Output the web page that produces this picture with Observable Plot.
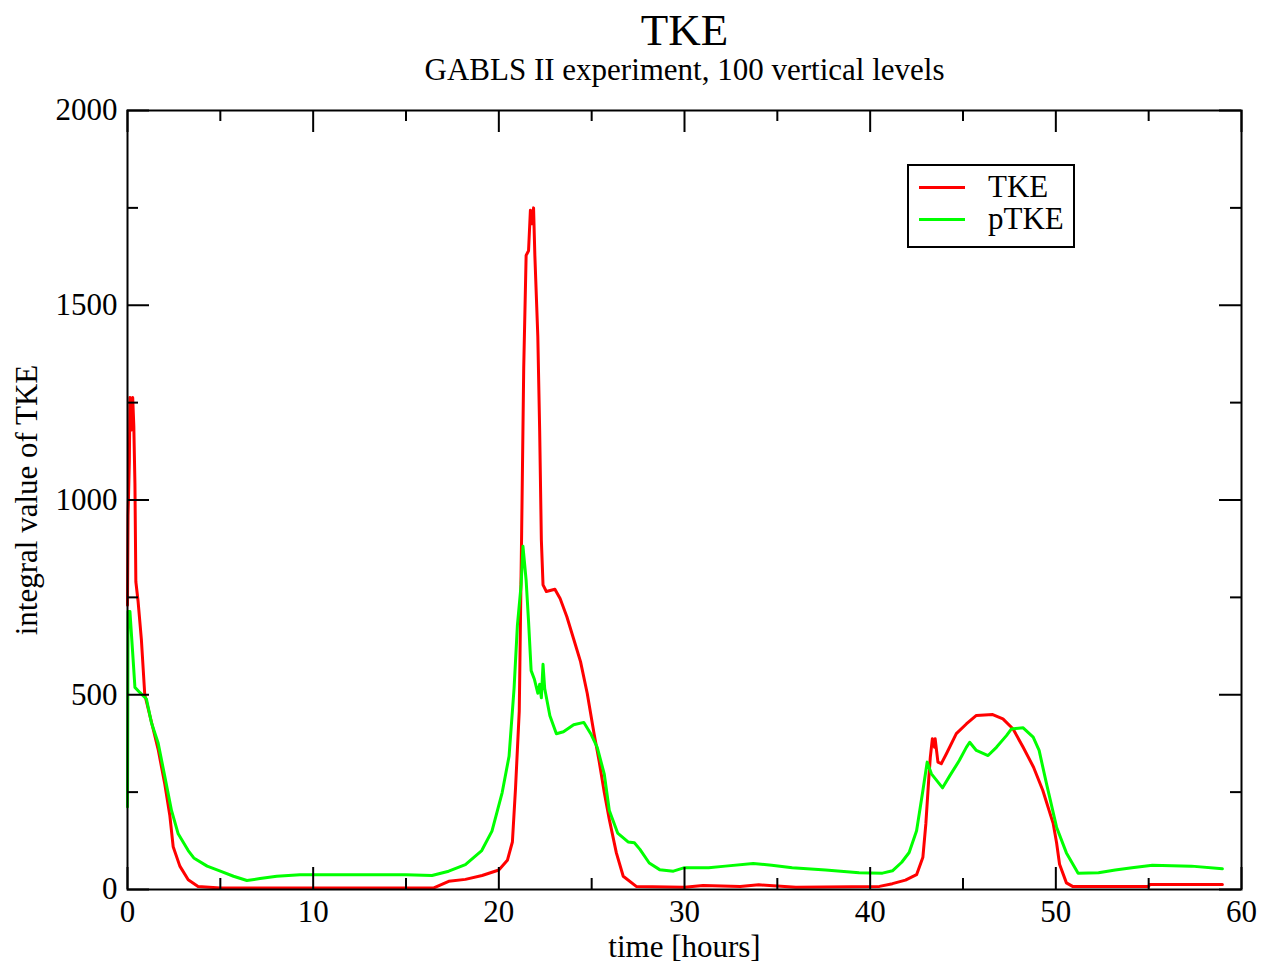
<!DOCTYPE html>
<html>
<head>
<meta charset="utf-8">
<script src="https://cdn.jsdelivr.net/npm/d3@7"></script>
<script src="https://cdn.jsdelivr.net/npm/@observablehq/plot@0.6"></script>
<style>
  body { margin: 0; background: #fff; }
  #wrap { position: relative; width: 1262px; height: 966px; font-family: "Liberation Serif", "Times New Roman", serif; }
  #legend { position: absolute; left: 907px; top: 164px; width: 164px; height: 80px; border: 2px solid #000; background: #fff; }
  .li { position: absolute; left: 10px; height: 30px; display: flex; align-items: center; font-size: 31px; color: #000; }
  .li span.sw { display: inline-block; width: 46px; height: 3px; margin-right: 23px; }
</style>
</head>
<body>
<div id="wrap">
  <div id="chart"></div>
  <div id="legend">
    <div class="li" style="top:6px"><span class="sw" style="background:#ff0000"></span>TKE</div>
    <div class="li" style="top:38px"><span class="sw" style="background:#00ff00"></span>pTKE</div>
  </div>
</div>
<script>
// time [hours] and integral TKE values
const tkeTime = [0, 0.03, 0.1, 0.13, 0.22, 0.28, 0.34, 0.4, 0.45, 0.57, 0.75, 0.93, 1.29, 1.65, 2.01, 2.28, 2.46, 2.82, 3.27, 3.8, 5, 10, 16.5, 17.3, 18.2, 19.1, 20.0, 20.46, 20.73, 20.9, 21.1, 21.23, 21.34, 21.47, 21.6, 21.7, 21.8, 21.87, 21.94, 22.1, 22.2, 22.29, 22.38, 22.56, 23.02, 23.3, 23.66, 24.03, 24.4, 24.76, 25.13, 25.4, 25.68, 25.95, 26.33, 26.7, 27.4, 30, 31, 33, 34, 36, 40.5, 41.2, 41.9, 42.5, 42.84, 43.0, 43.15, 43.24, 43.35, 43.47, 43.5, 43.65, 43.83, 44.1, 44.64, 45.18, 45.72, 46.6, 47.15, 47.7, 48.24, 48.8, 49.3, 49.86, 50.04, 50.2, 50.57, 50.9, 55, 55.05, 58.97];
const tkeValue = [730, 960, 1100, 1263, 1180, 1263, 1190, 1042, 790, 740, 640, 500, 430, 360, 270, 190, 110, 60, 25, 8, 4, 4, 4, 21, 26, 36, 50, 75, 122, 261, 458, 921, 1338, 1628, 1640, 1744, 1709, 1750, 1628, 1419, 1176, 898, 782, 765, 771, 747, 701, 643, 585, 504, 400, 330, 249, 180, 94, 34, 8, 6, 10, 8, 12, 6, 8, 15, 24, 38, 83, 169, 280, 340, 387, 365, 387, 327, 323, 348, 400, 425, 447, 449, 438, 412, 365, 314, 254, 169, 120, 65, 17, 8, 8, 13, 13];

const ptkeTime = [0, 0.03, 0.13, 0.3, 0.4, 0.66, 1.02, 1.29, 1.65, 2.01, 2.37, 2.73, 3.27, 3.57, 4.29, 5, 5.71, 6.43, 7.14, 8.04, 9.29, 15, 16.4, 17.3, 18.2, 19.08, 19.63, 20.18, 20.55, 20.82, 21.0, 21.2, 21.3, 21.47, 21.6, 21.74, 21.92, 22.1, 22.2, 22.29, 22.38, 22.47, 22.75, 23.1, 23.48, 24.03, 24.58, 24.95, 25.3, 25.68, 25.95, 26.4, 26.96, 27.3, 27.6, 28.1, 28.66, 29.4, 30, 31.3, 32.2, 33.7, 34.7, 35.8, 37.6, 39.4, 40.66, 41.2, 41.7, 42.1, 42.5, 42.84, 43.07, 43.3, 43.9, 44.3, 44.8, 45.18, 45.36, 45.72, 46.35, 46.8, 47.34, 47.6, 48.24, 48.78, 49.1, 49.5, 50.04, 50.57, 51.2, 52.3, 53.2, 54.1, 55.2, 57.3, 58.97];
const ptkeValue = [212, 714, 714, 592, 519, 506, 489, 428, 376, 290, 203, 143, 100, 81, 60, 47, 34, 23, 28, 34, 38, 38, 36, 47, 64, 100, 150, 249, 342, 516, 678, 782, 881, 794, 689, 562, 539, 504, 527, 492, 578, 516, 446, 400, 405, 423, 429, 400, 365, 296, 203, 145, 122, 120, 103, 68, 51, 47, 56, 56, 60, 67, 62, 56, 50, 43, 42, 48, 70, 95, 151, 254, 327, 297, 261, 293, 331, 365, 378, 357, 344, 365, 395, 412, 415, 391, 357, 271, 160, 94, 42, 43, 50, 56, 62, 60, 53];

const xMajor = [0, 10, 20, 30, 40, 50, 60];
const xMinor = [5, 15, 25, 35, 45, 55];
const yMajor = [0, 500, 1000, 1500, 2000];
const yMinor = [250, 750, 1250, 1750];

const tke = tkeTime.map((t, i) => ({t, v: tkeValue[i]}));
const ptke = ptkeTime.map((t, i) => ({t, v: ptkeValue[i]}));

const W = 1262, H = 966, mT = 110, mB = 77, mL = 127, mR = 21;
const fw = W - mL - mR, fh = H - mT - mB;
const big = 22, small = 11;

const chart = Plot.plot({
  width: W, height: H,
  marginTop: mT, marginBottom: mB, marginLeft: mL, marginRight: mR,
  style: {fontFamily: "'Liberation Serif', 'Times New Roman', serif", color: "#000", background: "#fff"},
  x: {domain: [0, 60]},
  y: {domain: [0, 2000]},
  marks: [
    Plot.line(tke, {x: "t", y: "v", stroke: "#ff0000", strokeWidth: 3}),
    Plot.line(ptke, {x: "t", y: "v", stroke: "#00ff00", strokeWidth: 3}),
    // inward ticks, all four sides
    Plot.ruleX(xMajor, {x: d => d, insetTop: fh - big, stroke: "#000", strokeWidth: 2}),
    Plot.ruleX(xMajor, {x: d => d, insetBottom: fh - big, stroke: "#000", strokeWidth: 2}),
    Plot.ruleX(xMinor, {x: d => d, insetTop: fh - small, stroke: "#000", strokeWidth: 2}),
    Plot.ruleX(xMinor, {x: d => d, insetBottom: fh - small, stroke: "#000", strokeWidth: 2}),
    Plot.ruleY(yMajor, {y: d => d, insetRight: fw - big, stroke: "#000", strokeWidth: 2}),
    Plot.ruleY(yMajor, {y: d => d, insetLeft: fw - big, stroke: "#000", strokeWidth: 2}),
    Plot.ruleY(yMinor, {y: d => d, insetRight: fw - small, stroke: "#000", strokeWidth: 2}),
    Plot.ruleY(yMinor, {y: d => d, insetLeft: fw - small, stroke: "#000", strokeWidth: 2}),
    Plot.frame({stroke: "#000", strokeWidth: 2}),
    Plot.axisX({ticks: xMajor, tickSize: 0, tickPadding: 10, fontSize: 31, label: null, tickFormat: d => String(d)}),
    Plot.axisY({ticks: yMajor, tickSize: 0, tickPadding: 10, fontSize: 31, label: null, tickFormat: d => String(d)}),
    Plot.text(["time [hours]"], {text: d => d, frameAnchor: "bottom", lineAnchor: "middle", dy: 58, fontSize: 31}),
    Plot.text(["integral value of TKE"], {text: d => d, frameAnchor: "left", textAnchor: "middle", lineAnchor: "middle", rotate: -90, dx: -100, fontSize: 31}),
    Plot.text(["TKE"], {text: d => d, frameAnchor: "top", lineAnchor: "middle", dy: -80, fontSize: 45}),
    Plot.text(["GABLS II experiment, 100 vertical levels"], {text: d => d, frameAnchor: "top", lineAnchor: "middle", dy: -40, fontSize: 31})
  ]
});
document.getElementById("chart").appendChild(chart);
</script>
</body>
</html>
